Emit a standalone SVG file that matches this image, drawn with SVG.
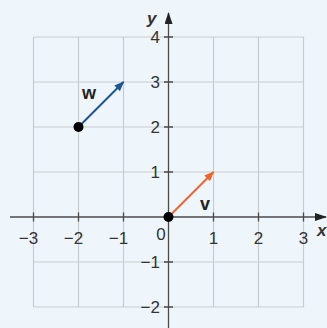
<svg xmlns="http://www.w3.org/2000/svg" width="327" height="328" viewBox="0 0 327 328">
<style>
.grid{stroke:#c9cccf;stroke-width:1.2;fill:none}
.axis{stroke:#4a4a4a;stroke-width:1.3;fill:none}
.lbl{font-family:"Liberation Sans",Arial,sans-serif;font-size:17px;fill:#333}
.it{font-family:"Liberation Sans",Arial,sans-serif;font-size:17px;font-style:italic;font-weight:bold;fill:#333}
.vl{font-family:"Liberation Sans",Arial,sans-serif;font-size:18px;font-weight:bold;fill:#222}
</style>
<defs>
<marker id="ah-ax" viewBox="0 0 12 8" refX="11" refY="4" markerWidth="12" markerHeight="8" markerUnits="userSpaceOnUse" orient="auto"><path d="M0,0 L12,4 L0,8 Z" fill="#222"/></marker>
<marker id="ah-w" viewBox="0 0 10 8" refX="9" refY="4" markerWidth="10" markerHeight="8" markerUnits="userSpaceOnUse" orient="auto"><path d="M0,0 L10,4 L0,8 Z" fill="#1d5590"/></marker>
<marker id="ah-v" viewBox="0 0 10 8" refX="9" refY="4" markerWidth="10" markerHeight="8" markerUnits="userSpaceOnUse" orient="auto"><path d="M0,0 L10,4 L0,8 Z" fill="#f0642c"/></marker>
</defs>
<rect width="327" height="328" fill="#eef6fc"/>
<g id="grid" class="grid">
<path d="M33.5,37V307M78.5,37V307M123.5,37V307M213.5,37V307M258.5,37V307M303.5,37V307"/>
<path d="M33.5,37H303.5M33.5,82H303.5M33.5,127H303.5M33.5,172H303.5M33.5,262H303.5M33.5,307H303.5"/>
</g>
<g id="axes">
<line class="axis" x1="10" y1="217" x2="326" y2="217" marker-end="url(#ah-ax)"/>
<line class="axis" x1="168.5" y1="328" x2="168.5" y2="13" marker-end="url(#ah-ax)"/>
<path class="axis" d="M33.5,212.5V221.5M78.5,212.5V221.5M123.5,212.5V221.5M213.5,212.5V221.5M258.5,212.5V221.5M303.5,212.5V221.5"/>
<path class="axis" d="M164,37H173M164,82H173M164,127H173M164,172H173M164,262H173M164,307H173"/>
</g>
<g id="xlabels" class="lbl" text-anchor="middle">
<text x="28.5" y="244">−3</text>
<text x="73.5" y="244">−2</text>
<text x="118.5" y="244">−1</text>
<text x="161" y="240">0</text>
<text x="213.5" y="244">1</text>
<text x="258.5" y="244">2</text>
<text x="303.5" y="244">3</text>
</g>
<g id="ylabels" class="lbl" text-anchor="end">
<text x="160" y="43">4</text>
<text x="160" y="88">3</text>
<text x="160" y="133">2</text>
<text x="160" y="178">1</text>
<text x="160" y="268">−1</text>
<text x="160" y="313">−2</text>
</g>
<text class="it" x="317" y="236">x</text>
<text class="it" x="147" y="24">y</text>
<g id="connectors">
<line x1="78.5" y1="127" x2="123.5" y2="82" stroke="#1d5590" stroke-width="2" marker-end="url(#ah-w)"/>
<line x1="168.5" y1="217" x2="213.5" y2="172" stroke="#f0642c" stroke-width="2" marker-end="url(#ah-v)"/>
</g>
<g id="node-w">
<circle cx="78.5" cy="127" r="5" fill="#000"/>
<text class="vl" x="82" y="99">w</text>
</g>
<g id="node-v">
<circle cx="168.5" cy="217" r="5" fill="#000"/>
<text class="vl" x="200" y="210">v</text>
</g>
</svg>
